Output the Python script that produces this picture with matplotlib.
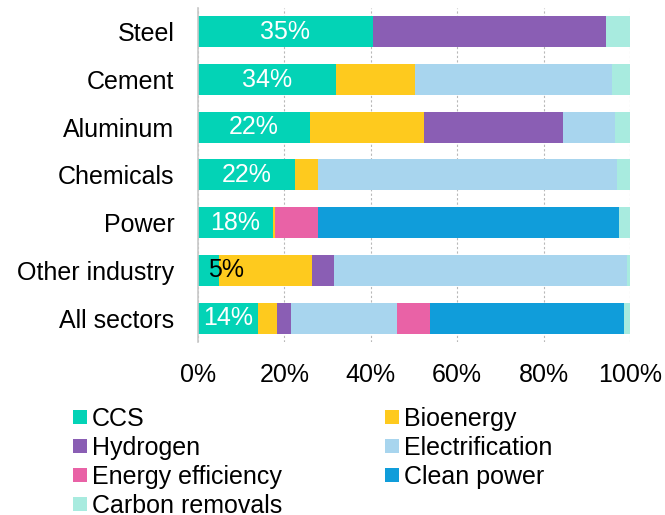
import matplotlib.pyplot as plt
import numpy as np

plt.rcParams["font.family"] = ["Liberation Sans", "DejaVu Sans"]

sectors = ["Steel", "Cement", "Aluminum", "Chemicals", "Power", "Other industry", "All sectors"]
ccs_labels = ["35%", "34%", "22%", "22%", "18%", "5%", "14%"]

# share of abatement by lever, in %
ccs = [40.4, 31.9, 25.9, 22.4, 17.4, 4.9, 14.0]
bioenergy = [0.0, 18.4, 26.3, 5.4, 0.5, 21.6, 4.4]
hydrogen = [54.0, 0.0, 32.3, 0.0, 0.0, 5.0, 3.2]
electrification = [0.0, 45.5, 12.0, 69.2, 0.0, 67.8, 24.5]
efficiency = [0.0, 0.0, 0.0, 0.0, 9.9, 0.0, 7.7]
clean_power = [0.0, 0.0, 0.0, 0.0, 69.7, 0.0, 44.9]
removals = [5.6, 4.2, 3.5, 3.0, 2.5, 0.7, 1.3]

series = [
    ("CCS", ccs, "#03D3B6"),
    ("Bioenergy", bioenergy, "#FECA1E"),
    ("Hydrogen", hydrogen, "#8A5EB4"),
    ("Electrification", electrification, "#A8D5EE"),
    ("Energy efficiency", efficiency, "#E962A6"),
    ("Clean power", clean_power, "#109DDA"),
    ("Carbon removals", removals, "#A8EBDF"),
]

FS = 18

fig = plt.figure(figsize=(6.65, 5.15), dpi=100)
ax = fig.add_axes([0.2977, 0.336, 0.6497, 0.6485])

y = np.arange(len(sectors))
left = np.zeros(len(sectors))
handles = {}
for name, vals, color in series:
    vals = np.array(vals)
    handles[name] = ax.barh(y, vals, left=left, height=0.65, color=color, label=name, zorder=2)
    left += vals

for i, lab in enumerate(ccs_labels):
    if ccs[i] < 10:
        ax.text(2.3, y[i], lab, ha="left", va="center", fontsize=FS, color="black", zorder=3)
    else:
        ax.text(ccs[i] / 2, y[i], lab, ha="center", va="center", fontsize=FS, color="white", zorder=3)

ax.set_xlim(0, 100)
ax.set_ylim(len(sectors) - 0.5, -0.5)
ax.set_yticks(y)
ax.set_yticklabels(sectors, fontsize=FS)
ax.set_xticks(np.arange(0, 101, 20))
ax.set_xticklabels([f"{t}%" for t in range(0, 101, 20)], fontsize=FS)
ax.tick_params(axis="y", length=0, pad=17)
ax.tick_params(axis="x", length=0, pad=15)
ax.grid(axis="x", color="#B8B8B8", linestyle=(0, (2, 2)), linewidth=0.8, zorder=0)
for s in ["top", "right", "bottom"]:
    ax.spines[s].set_visible(False)
ax.spines["left"].set_color("#C8C8C8")
ax.spines["left"].set_linewidth(1.2)

# legend filled column-first, so order handles to read across rows
order = ["CCS", "Hydrogen", "Energy efficiency", "Carbon removals",
         "Bioenergy", "Electrification", "Clean power"]
fig.legend([handles[n] for n in order], order, loc="upper left",
           bbox_to_anchor=(0.0915, 0.234), ncol=2, frameon=False,
           fontsize=FS, handlelength=0.55, handleheight=0.5, handletextpad=0.2,
           columnspacing=4.1, labelspacing=0.2, borderpad=0)

fig.savefig("out.png", dpi=100)
